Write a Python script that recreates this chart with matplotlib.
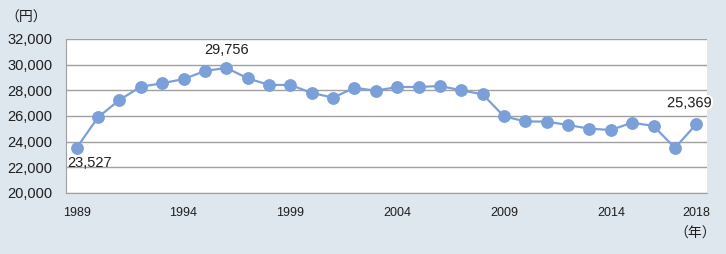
import matplotlib
matplotlib.use("Agg")
import matplotlib.pyplot as plt
import matplotlib.patheffects as pe

years = list(range(1989, 2019))
values = [23527, 25900, 27250, 28280, 28550, 28880, 29500, 29756, 28940, 28420,
          28420, 27800, 27430, 28200, 27970, 28260, 28260, 28340, 28000, 27690,
          25970, 25580, 25560, 25300, 25010, 24910, 25480, 25220, 23510, 25369]
xtick_years = [1989, 1994, 1999, 2004, 2009, 2014, 2018]
yticks = [20000, 22000, 24000, 26000, 28000, 30000, 32000]

plt.rcParams['font.family'] = ['Liberation Sans', 'Noto Sans CJK JP', 'DejaVu Sans']

bg = '#dee6ee'
txt = '#1e1e1e'
fig = plt.figure(figsize=(7.26, 2.54), dpi=100, facecolor=bg)
ax = fig.add_axes([66/726, 61/254, 641/726, 154/254])
ax.set_facecolor('white')

ax.plot(years, values, color='#7b9fd8', lw=1.6, marker='o', ms=8.2,
        markerfacecolor='#7b9fd8', markeredgecolor='#7b9fd8', zorder=3, clip_on=False)

ax.set_xlim(1988.5, 2018.5)
ax.set_ylim(20000, 32000)
ax.set_yticks(yticks)
ax.set_yticklabels([f"{v:,}" for v in yticks], fontsize=10.5, color=txt)
ax.set_xticks(xtick_years)
ax.set_xticklabels([str(y) for y in xtick_years], fontsize=9, color=txt)
ax.tick_params(axis='both', length=0)
ax.tick_params(axis='y', pad=10)
ax.tick_params(axis='x', pad=10)
ax.grid(axis='y', color='#a0a0a0', lw=1.0)
ax.set_axisbelow(True)
for s in ['top', 'right']:
    ax.spines[s].set_visible(False)
ax.spines['left'].set_color('#a0a0a0')
ax.spines['bottom'].set_color('#a0a0a0')

# annotations
i0 = 0
ax.annotate(f"{values[i0]:,}", (years[i0], values[i0]), xytext=(-7, -6),
            textcoords='offset points', ha='left', va='top', fontsize=10.5, color=txt)
imax = values.index(max(values))
ax.annotate(f"{values[imax]:,}", (years[imax], values[imax]), xytext=(0, 8),
            textcoords='offset points', ha='center', va='bottom', fontsize=10.5, color=txt)
il = len(values) - 1
ax.annotate(f"{values[il]:,}", (years[il], values[il]), xytext=(-5, 10),
            textcoords='offset points', ha='center', va='bottom', fontsize=10.5, color=txt,
            path_effects=[pe.withStroke(linewidth=3, foreground='white')])

fig.text(5/726, 1 - 18/254, '（円）', fontsize=10, ha='left', va='center', color=txt,
         family=['Noto Sans CJK JP', 'DejaVu Sans'])
fig.text(716/726, 1 - 234/254, '（年）', fontsize=10, ha='right', va='center', color=txt,
         family=['Noto Sans CJK JP', 'DejaVu Sans'])

fig.savefig('out.png', dpi=100, facecolor=bg)
